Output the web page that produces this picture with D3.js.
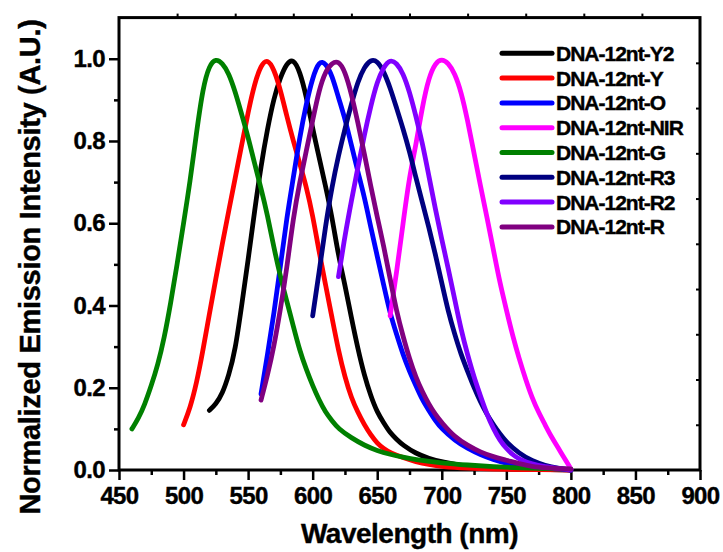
<!DOCTYPE html>
<html>
<head>
<meta charset="utf-8">
<script src="https://cdn.jsdelivr.net/npm/d3@7"></script>
<style>
  body { margin: 0; background: #fff; }
  svg { display: block; font-family: "Liberation Sans", Arial, sans-serif; font-weight: bold; }
  text { stroke: #000; stroke-width: 0.4px; }
</style>
</head>
<body>
<svg id="chart"></svg>
<script>
// Series: [wavelength nm, normalized intensity]
const dnaY2 = [[520,.145],[525,.16],[530,.185],[535,.23],[540,.29],[545,.40],[550,.51],[555,.63],[560,.74],[565,.83],[570,.905],[575,.955],[580,.99],[585,1.0],[590,.97],[595,.91],[600,.83],[605,.76],[610,.69],[615,.615],[620,.52],[625,.45],[630,.37],[635,.295],[640,.23],[645,.18],[650,.14],[655,.115],[660,.09],[665,.075],[670,.06],[680,.04],[690,.028],[700,.02],[720,.008],[740,.004],[760,.002],[800,0]];
const dnaY = [[500,.11],[505,.15],[510,.21],[515,.29],[520,.38],[525,.465],[530,.55],[535,.63],[540,.71],[545,.79],[550,.87],[555,.94],[560,.985],[565,1.0],[570,.975],[575,.925],[580,.86],[585,.80],[590,.745],[595,.69],[600,.62],[605,.53],[610,.45],[615,.37],[620,.29],[625,.225],[630,.175],[635,.14],[640,.11],[645,.085],[650,.065],[655,.052],[660,.042],[670,.03],[680,.02],[690,.013],[700,.008],[720,.004],[740,.002],[760,.001],[800,0]];
const dnaO = [[560,.185],[565,.28],[570,.38],[575,.495],[580,.615],[585,.71],[590,.81],[595,.89],[600,.955],[605,.995],[610,.99],[615,.96],[620,.905],[625,.855],[630,.79],[635,.725],[640,.665],[645,.59],[650,.52],[655,.45],[660,.38],[665,.33],[670,.28],[675,.24],[680,.205],[685,.17],[690,.145],[695,.12],[700,.10],[710,.072],[720,.052],[730,.037],[740,.025],[750,.016],[760,.01],[780,.004],[800,0]];
const dnaNIR = [[660,.375],[665,.48],[670,.60],[675,.715],[680,.79],[685,.885],[690,.955],[695,.99],[700,1.0],[705,.99],[710,.965],[715,.92],[720,.85],[725,.77],[730,.69],[735,.615],[740,.535],[745,.455],[750,.39],[755,.325],[760,.27],[765,.22],[770,.175],[775,.14],[780,.11],[785,.08],[790,.055],[795,.028],[800,.003]];
const dnaG = [[460,.10],[465,.125],[470,.16],[475,.205],[480,.255],[485,.32],[490,.405],[495,.50],[500,.60],[505,.70],[510,.82],[515,.93],[520,.985],[525,1.0],[530,.99],[535,.965],[540,.92],[545,.865],[550,.81],[555,.745],[560,.685],[565,.62],[570,.54],[575,.47],[580,.41],[585,.35],[590,.29],[595,.245],[600,.205],[605,.17],[610,.14],[615,.12],[620,.10],[630,.078],[640,.06],[650,.047],[660,.038],[670,.031],[680,.025],[700,.017],[720,.012],[740,.008],[760,.005],[780,.003],[800,.002]];
const dnaR3 = [[600,.375],[605,.48],[610,.595],[615,.69],[620,.765],[625,.83],[630,.89],[635,.945],[640,.98],[645,.998],[650,.995],[655,.97],[660,.93],[665,.88],[670,.83],[675,.775],[680,.71],[685,.65],[690,.59],[695,.525],[700,.455],[705,.385],[710,.33],[715,.28],[720,.24],[725,.20],[730,.165],[735,.135],[740,.11],[745,.088],[750,.068],[760,.04],[770,.022],[780,.011],[790,.004],[800,0]];
const dnaR2 = [[620,.47],[625,.57],[630,.655],[635,.735],[640,.815],[645,.885],[650,.945],[655,.98],[660,.998],[665,.99],[670,.965],[675,.92],[680,.86],[685,.795],[690,.715],[695,.635],[700,.56],[705,.49],[710,.415],[715,.34],[720,.28],[725,.225],[730,.18],[735,.135],[740,.10],[745,.072],[750,.052],[755,.037],[760,.026],[770,.014],[780,.008],[790,.004],[800,0]];
const dnaR = [[560,.17],[565,.23],[570,.30],[575,.39],[580,.49],[585,.615],[590,.70],[595,.775],[600,.85],[605,.925],[610,.97],[615,.99],[620,.995],[625,.97],[630,.915],[635,.845],[640,.77],[645,.69],[650,.615],[655,.545],[660,.465],[665,.385],[670,.325],[675,.27],[680,.225],[685,.19],[690,.16],[695,.135],[700,.115],[710,.08],[720,.06],[730,.043],[740,.032],[750,.024],[760,.015],[770,.008],[780,.005],[800,.002]];

const seriesNames = ["DNA-12nt-Y2", "DNA-12nt-Y", "DNA-12nt-O", "DNA-12nt-NIR", "DNA-12nt-G", "DNA-12nt-R3", "DNA-12nt-R2", "DNA-12nt-R"];
const seriesColors = ["#000000", "#ff0000", "#0000ff", "#ff00ff", "#008000", "#000080", "#8000ff", "#800080"];
const seriesData = [dnaY2, dnaY, dnaO, dnaNIR, dnaG, dnaR3, dnaR2, dnaR];

const xTicks = [450, 500, 550, 600, 650, 700, 750, 800, 850, 900];
const yTicks = [0, 0.2, 0.4, 0.6, 0.8, 1.0];

const width = 723, height = 552;
const svg = d3.select("#chart").attr("width", width).attr("height", height);

const x = d3.scaleLinear().domain([450, 900]).range([119, 700]);
const y = d3.scaleLinear().domain([0, 1.1]).range([470, 17.6]);

// minor ticks first (bottom / left, outward)
const xMinor = d3.range(475, 900, 50);
const yMinor = d3.range(0.1, 1.1, 0.2);

svg.append("g")
  .attr("transform", "translate(0,470)")
  .call(d3.axisBottom(x).tickValues(xMinor).tickSize(5).tickSizeOuter(0).tickFormat(""))
  .call(g => g.select(".domain").remove())
  .selectAll("line").attr("stroke-width", 2.5);

svg.append("g")
  .attr("transform", "translate(119,0)")
  .call(d3.axisLeft(y).tickValues(yMinor).tickSize(5).tickSizeOuter(0).tickFormat(""))
  .call(g => g.select(".domain").remove())
  .selectAll("line").attr("stroke-width", 2.5);

// top ticks (outward) and right ticks (inward), as in the original frame
svg.append("g")
  .attr("transform", "translate(0,17.6)")
  .call(d3.axisTop(x).tickValues(d3.range(495, 900, 45)).tickSize(4).tickFormat(""))
  .call(g => g.select(".domain").remove())
  .selectAll("line").attr("stroke-width", 2);

svg.append("g")
  .attr("transform", "translate(700,0)")
  .call(d3.axisLeft(y).tickValues(d3.range(0.11, 1.1, 0.11)).tickSize(4).tickFormat(""))
  .call(g => g.select(".domain").remove())
  .selectAll("line").attr("stroke-width", 2);

// major axes
const xAxis = svg.append("g")
  .attr("transform", "translate(0,470)")
  .call(d3.axisBottom(x).tickValues(xTicks).tickSize(10).tickSizeOuter(0).tickPadding(7).tickFormat(d3.format("d")));
xAxis.select(".domain").remove();
xAxis.selectAll("line").attr("stroke-width", 2.5);
xAxis.selectAll("text")
  .attr("font-family", "Liberation Sans, Arial, sans-serif")
  .attr("font-weight", "bold")
  .attr("font-size", 24)
  .attr("letter-spacing", -0.6)
  .attr("fill", "#000");

const yAxis = svg.append("g")
  .attr("transform", "translate(119,0)")
  .call(d3.axisLeft(y).tickValues(yTicks).tickSize(10).tickSizeOuter(0).tickPadding(4).tickFormat(d3.format(".1f")));
yAxis.select(".domain").remove();
yAxis.selectAll("line").attr("stroke-width", 2.5);
yAxis.selectAll("text")
  .attr("font-family", "Liberation Sans, Arial, sans-serif")
  .attr("font-weight", "bold")
  .attr("font-size", 24)
  .attr("letter-spacing", -0.6)
  .attr("fill", "#000");

// frame
svg.append("rect")
  .attr("x", x(450)).attr("y", y(1.1))
  .attr("width", x(900) - x(450)).attr("height", y(0) - y(1.1))
  .attr("fill", "none").attr("stroke", "#000").attr("stroke-width", 3);

// curves
const line = d3.line()
  .x(d => x(d[0]))
  .y(d => y(d[1]))
  .curve(d3.curveBasis);

seriesData.forEach((data, i) => {
  svg.append("path")
    .datum(data)
    .attr("d", line)
    .attr("fill", "none")
    .attr("stroke", seriesColors[i])
    .attr("stroke-width", 4.8)
    .attr("stroke-linecap", "round")
    .attr("stroke-linejoin", "round");
});

// legend
const legend = svg.append("g").attr("transform", "translate(502,53.3)");
seriesNames.forEach((name, i) => {
  const row = legend.append("g").attr("transform", "translate(0," + (i * 24.8) + ")");
  row.append("line")
    .attr("x1", 0).attr("x2", 50)
    .attr("stroke", seriesColors[i])
    .attr("stroke-width", 5)
    .attr("stroke-linecap", "round");
  row.append("text")
    .attr("x", 54)
    .attr("y", 7.5)
    .attr("font-size", 21)
    .attr("letter-spacing", -1)
    .text(name);
});

// axis titles
svg.append("text")
  .attr("x", (x(450) + x(900)) / 2)
  .attr("y", 543)
  .attr("text-anchor", "middle")
  .attr("font-size", 28)
  .attr("letter-spacing", -0.5)
  .text("Wavelength (nm)");

svg.append("text")
  .attr("transform", "translate(40,267)rotate(-90)")
  .attr("text-anchor", "middle")
  .attr("font-size", 29)
  .attr("letter-spacing", -0.3)
  .text("Normalized Emission Intensity (A.U.)");
</script>
</body>
</html>
